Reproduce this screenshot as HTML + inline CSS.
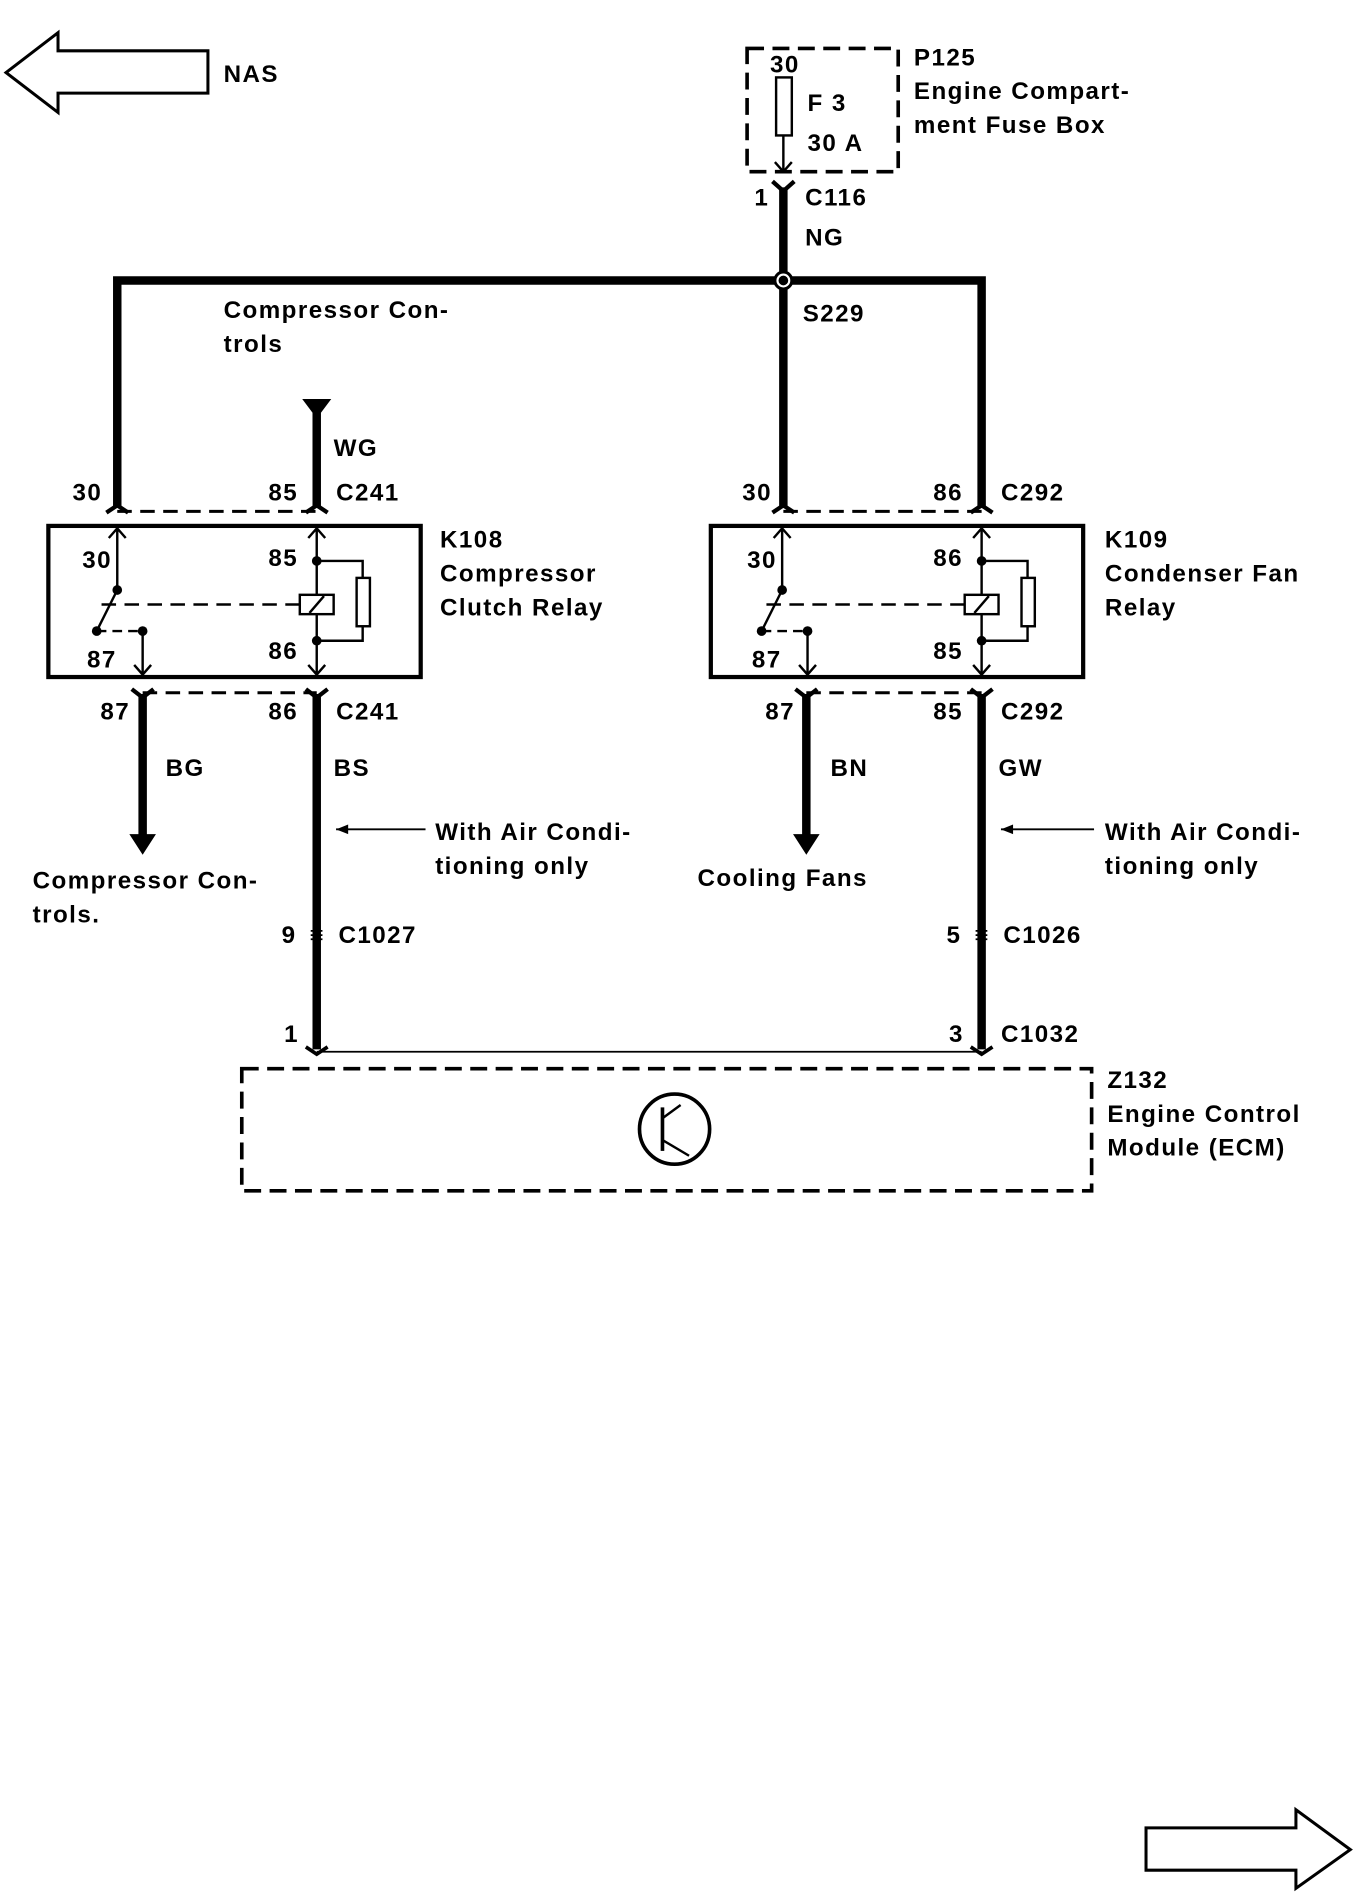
<!DOCTYPE html>
<html><head><meta charset="utf-8"><style>
html,body{margin:0;padding:0;background:#fff;}
svg{display:block;}
text{font-family:"Liberation Sans",Arial,sans-serif;font-weight:bold;font-size:20px;fill:#000;letter-spacing:1.2px;}
</style></head><body>
<svg width="1360" height="1892" viewBox="0 0 1125 1565" xmlns="http://www.w3.org/2000/svg">
<g fill="none" stroke="#000">
<polygon points="5,60 48,27 48,42 172,42 172,77 48,77 48,93" stroke-width="2.5" fill="#fff"/>
<polygon points="1117,1530 1072,1497 1072,1512 948,1512 948,1547 1072,1547 1072,1562" stroke-width="2.5" fill="#fff"/>
<rect x="618" y="40" width="125" height="102" stroke-width="3" stroke-dasharray="14,7"/>
<rect x="642" y="64" width="13" height="48" stroke-width="2"/>
<line x1="648" y1="112" x2="648" y2="142" stroke-width="2"/>
<polyline points="641,134 648,142 655,134" stroke-width="2"/>
<polyline points="639,150 648,158 657,150" stroke-width="3.5"/>
<line x1="648" y1="155" x2="648" y2="420" stroke-width="7"/>
<polyline points="97,420 97,232 812,232 812,420" stroke-width="7"/>
<polygon points="250,330 274,330 262,346" fill="#000" stroke="none"/>
<line x1="262" y1="340" x2="262" y2="420" stroke-width="7"/>
<line x1="97" y1="423" x2="262" y2="423" stroke-width="2.5" stroke-dasharray="12,7"/>
<line x1="648" y1="423" x2="812" y2="423" stroke-width="2.5" stroke-dasharray="12,7"/>
<polyline points="88,424 97,418 106,424" stroke-width="3.5"/>
<polyline points="253,424 262,418 271,424" stroke-width="3.5"/>
<polyline points="639,424 648,418 657,424" stroke-width="3.5"/>
<polyline points="803,424 812,418 821,424" stroke-width="3.5"/>
<rect x="40" y="435" width="308" height="125" stroke-width="3.5"/>
<rect x="588" y="435" width="308" height="125" stroke-width="3.5"/>
</g>
<g id="relayL" fill="none" stroke="#000" stroke-width="2">
<line x1="97" y1="437" x2="97" y2="488"/>
<polyline points="90,445 97,437 104,445"/>
<line x1="97" y1="488" x2="80" y2="522"/>
<line x1="84" y1="500" x2="248" y2="500" stroke-dasharray="12,7"/>
<line x1="80" y1="522" x2="118" y2="522" stroke-dasharray="8,5"/>
<line x1="118" y1="522" x2="118" y2="558"/>
<polyline points="111,550 118,558 125,550"/>
<line x1="262" y1="437" x2="262" y2="558"/>
<polyline points="255,445 262,437 269,445"/>
<polyline points="255,550 262,558 269,550"/>
<rect x="248" y="492" width="28" height="16" fill="#fff"/>
<line x1="256" y1="507" x2="268" y2="493"/>
<polyline points="262,464 300,464 300,478"/>
<rect x="295" y="478" width="11" height="40"/>
<polyline points="300,518 300,530 262,530"/>
<g fill="#000" stroke="none"><circle cx="97" cy="488" r="4"/><circle cx="80" cy="522" r="4"/><circle cx="118" cy="522" r="4"/><circle cx="262" cy="464" r="4"/><circle cx="262" cy="530" r="4"/></g>
</g>
<use href="#relayL" x="550" y="0"/>
<g fill="none" stroke="#000">
<line x1="118" y1="573" x2="262" y2="573" stroke-width="2.5" stroke-dasharray="12,7"/>
<line x1="667" y1="573" x2="812" y2="573" stroke-width="2.5" stroke-dasharray="12,7"/>
<polyline points="109,570 118,577 127,570" stroke-width="3.5"/>
<polyline points="253,570 262,577 271,570" stroke-width="3.5"/>
<polyline points="658,570 667,577 676,570" stroke-width="3.5"/>
<polyline points="803,570 812,577 821,570" stroke-width="3.5"/>
<line x1="118" y1="574" x2="118" y2="692" stroke-width="7"/>
<line x1="667" y1="574" x2="667" y2="692" stroke-width="7"/>
<line x1="262" y1="574" x2="262" y2="868" stroke-width="7"/>
<line x1="812" y1="574" x2="812" y2="868" stroke-width="7"/>
<line x1="352" y1="686" x2="278" y2="686" stroke-width="1.5"/>
<line x1="905" y1="686" x2="828" y2="686" stroke-width="1.5"/>
<line x1="262" y1="870" x2="812" y2="870" stroke-width="1.5"/>
<polyline points="253,866 262,872 271,866" stroke-width="3"/>
<polyline points="803,866 812,872 821,866" stroke-width="3"/>
<rect x="200" y="884" width="703" height="101" stroke-width="3" stroke-dasharray="14,7"/>
<circle cx="558" cy="934" r="29" stroke-width="3"/>
<line x1="548" y1="916" x2="548" y2="952" stroke-width="3"/>
<line x1="548" y1="925" x2="563" y2="914" stroke-width="2"/>
<line x1="548" y1="943" x2="570" y2="956" stroke-width="2"/>
</g>
<g fill="#000">
<polygon points="278,686 288,682 288,690"/>
<polygon points="828,686 838,682 838,690"/>
<polygon points="107,690 129,690 118,707"/>
<polygon points="656,690 678,690 667,707"/>
<circle cx="648" cy="232" r="7" fill="#fff" stroke="#000" stroke-width="2.5"/>
<circle cx="648" cy="232" r="4"/>
<text x="256" y="780" font-size="14">&#x2261;</text>
<text x="806" y="780" font-size="14">&#x2261;</text>
</g>
<text x="185" y="68">NAS</text>
<text x="637" y="60">30</text>
<text x="668" y="92">F 3</text>
<text x="668" y="125">30 A</text>
<text x="756" y="54">P125</text>
<text x="756" y="82">Engine Compart-</text>
<text x="756" y="110">ment Fuse Box</text>
<text x="624" y="170">1</text>
<text x="666" y="170">C116</text>
<text x="666" y="203">NG</text>
<text x="664" y="266">S229</text>
<text x="185" y="263">Compressor Con-</text>
<text x="185" y="291">trols</text>
<text x="276" y="377">WG</text>
<text x="60" y="414">30</text>
<text x="222" y="414">85</text>
<text x="278" y="414">C241</text>
<text x="614" y="414">30</text>
<text x="772" y="414">86</text>
<text x="828" y="414">C292</text>
<text x="68" y="470">30</text>
<text x="222" y="468">85</text>
<text x="72" y="552">87</text>
<text x="222" y="545">86</text>
<text x="618" y="470">30</text>
<text x="772" y="468">86</text>
<text x="622" y="552">87</text>
<text x="772" y="545">85</text>
<text x="364" y="453">K108</text>
<text x="364" y="481">Compressor</text>
<text x="364" y="509">Clutch Relay</text>
<text x="914" y="453">K109</text>
<text x="914" y="481">Condenser Fan</text>
<text x="914" y="509">Relay</text>
<text x="83" y="595">87</text>
<text x="222" y="595">86</text>
<text x="278" y="595">C241</text>
<text x="633" y="595">87</text>
<text x="772" y="595">85</text>
<text x="828" y="595">C292</text>
<text x="137" y="642">BG</text>
<text x="276" y="642">BS</text>
<text x="687" y="642">BN</text>
<text x="826" y="642">GW</text>
<text x="360" y="695">With Air Condi-</text>
<text x="360" y="723">tioning only</text>
<text x="914" y="695">With Air Condi-</text>
<text x="914" y="723">tioning only</text>
<text x="27" y="735">Compressor Con-</text>
<text x="27" y="763">trols.</text>
<text x="577" y="733">Cooling Fans</text>
<text x="233" y="780">9</text>
<text x="280" y="780">C1027</text>
<text x="783" y="780">5</text>
<text x="830" y="780">C1026</text>
<text x="235" y="862">1</text>
<text x="785" y="862">3</text>
<text x="828" y="862">C1032</text>
<text x="916" y="900">Z132</text>
<text x="916" y="928">Engine Control</text>
<text x="916" y="956">Module (ECM)</text>
</svg>
</body></html>
